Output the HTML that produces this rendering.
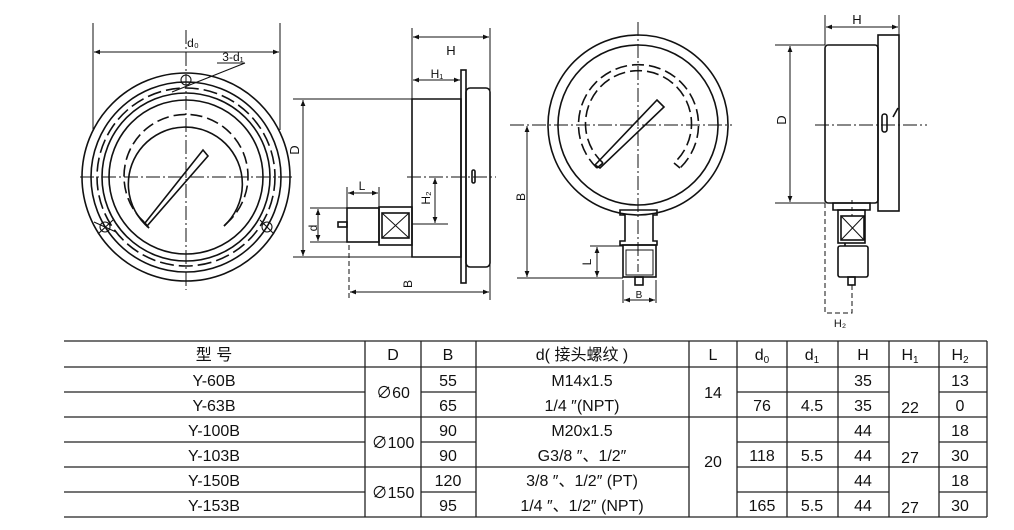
<!DOCTYPE html>
<html><head><meta charset="utf-8"><style>
body{margin:0;background:#fff;}
svg{display:block;}
text{font-family:"Liberation Sans","Noto Sans CJK SC",sans-serif;fill:#111;}
.t text{font-family:"Liberation Sans Narrow","Liberation Sans","Noto Sans CJK SC",sans-serif;font-size:16px;text-anchor:middle;}
</style></head><body>
<svg width="1014" height="530" viewBox="0 0 1014 530" xmlns="http://www.w3.org/2000/svg">
<defs>
<marker id="a" viewBox="0 0 10 10" refX="10" refY="5" markerWidth="8" markerHeight="6" orient="auto-start-reverse"><path d="M0,1 L10,5 L0,9 z" fill="#111"/></marker>
</defs>
<g fill="none" stroke="#111" stroke-width="1.6">
<!-- Drawing 1 -->
<circle cx="186" cy="177" r="104"/>
<circle cx="186" cy="177" r="95"/>
<circle cx="186" cy="177" r="89" stroke-dasharray="14,5"/>
<circle cx="186" cy="177" r="84"/>
<circle cx="186" cy="177" r="77"/>
<path d="M144,222 A62,62 0 1 1 228,222" stroke-dasharray="12,5"/>
<path d="M149,228 A57,57 0 1 1 224,226"/>
<path d="M144,222 L149,228 M228,222 L224,226"/>
<polygon points="145,223 203,150 208,156 147,226"/>
<g stroke-width="1.1"><circle cx="186" cy="80" r="5"/><circle cx="105" cy="227" r="5"/><circle cx="267" cy="227" r="5"/>
<path d="M172,92 L245,63 M98,234 L113,220 M260,220 L274,234 M94,222 L116,232"/></g>
<path d="M80,177 H295 M186,30 V290" stroke-width="1" stroke-dasharray="14,3,2,3"/>
<path d="M93,23 V130 M280,23 V130" stroke-width="1"/>
<path d="M94,52 H279" stroke-width="1" marker-start="url(#a)" marker-end="url(#a)"/>
<path d="M217,63 H245" stroke-width="1"/>
<!-- Drawing 2 -->
<path d="M412,28 V257 M490,28 V300" stroke-width="1"/>
<path d="M413,37 H489" stroke-width="1" marker-start="url(#a)" marker-end="url(#a)"/>
<path d="M413,80 H460" stroke-width="1" marker-start="url(#a)" marker-end="url(#a)"/>
<rect x="461" y="70" width="5" height="213"/>
<rect x="466" y="88" width="24" height="179" rx="4"/>
<path d="M412,99 H461 V257 H412 Z"/>
<path d="M293,99 H412 M293,257 H412" stroke-width="1"/>
<path d="M303,100 V256" stroke-width="1" marker-start="url(#a)" marker-end="url(#a)"/>
<path d="M407,177 H496" stroke-width="1" stroke-dasharray="14,3,2,3"/>
<rect x="472" y="170" width="3" height="13" rx="1.5"/>
<path d="M435,178 V223" stroke-width="1" marker-start="url(#a)" marker-end="url(#a)"/>
<path d="M412,224 H448" stroke-width="1"/>
<rect x="379" y="207" width="33" height="38"/>
<rect x="382" y="213" width="27" height="25"/>
<path d="M382,213 L409,238 M409,213 L382,238" stroke-width="1"/>
<rect x="347" y="208" width="32" height="34"/>
<rect x="338" y="222" width="9" height="5"/>
<path d="M347,187 V208 M379,187 V208" stroke-width="1"/>
<path d="M348,193 H378" stroke-width="1" marker-start="url(#a)" marker-end="url(#a)"/>
<path d="M310,208 H347 M310,242 H347" stroke-width="1"/>
<path d="M318,209 V241" stroke-width="1" marker-start="url(#a)" marker-end="url(#a)"/>
<path d="M349,245 V300" stroke-width="1" stroke-dasharray="5,3"/>
<path d="M350,292 H489" stroke-width="1" marker-start="url(#a)" marker-end="url(#a)"/>
<!-- Drawing 3 -->
<circle cx="638" cy="125" r="90"/>
<circle cx="638" cy="125" r="80"/>
<path d="M597,168 A60,60 0 1 1 680,168" stroke-dasharray="12,5"/>
<path d="M603,163 A53,53 0 1 1 674,163" stroke-dasharray="12,5"/>
<path d="M597,168 L603,163 M680,168 L674,163"/>
<polygon points="595,165 657,100 664,107 600,168"/>
<path d="M510,125 H732 M638,22 V272" stroke-width="1" stroke-dasharray="14,3,2,3"/>
<path d="M620,210 H657 V215 H653 V241 H657 V245 H620 V241 H625 V215 H620 Z"/>
<rect x="623" y="245" width="33" height="32"/>
<path d="M626,250 H653 V275 H626 Z" stroke-width="1"/>
<rect x="635" y="277" width="8" height="8"/>
<path d="M527,126 V277" stroke-width="1" marker-start="url(#a)" marker-end="url(#a)"/>
<path d="M517,278 H623 M590,246 H623" stroke-width="1"/>
<path d="M597,247 V277" stroke-width="1" marker-start="url(#a)" marker-end="url(#a)"/>
<path d="M623,280 V303 M656,280 V303" stroke-width="1"/>
<path d="M624,300 H655" stroke-width="1" marker-start="url(#a)" marker-end="url(#a)"/>
<!-- Drawing 4 -->
<rect x="825" y="45" width="53" height="158" rx="3"/>
<rect x="878" y="35" width="21" height="176"/>
<path d="M825,15 V45 M899,15 V35" stroke-width="1"/>
<path d="M826,27 H898" stroke-width="1" marker-start="url(#a)" marker-end="url(#a)"/>
<path d="M775,45 H825 M775,203 H825" stroke-width="1"/>
<path d="M790,46 V202" stroke-width="1" marker-start="url(#a)" marker-end="url(#a)"/>
<path d="M815,125 H927" stroke-width="1" stroke-dasharray="14,3,2,3"/>
<rect x="882" y="114" width="5" height="18" rx="2.5"/>
<path d="M893,117 L898,108"/>
<path d="M833,203 H870 V210 H833 Z"/>
<rect x="838" y="210" width="27" height="33"/>
<rect x="841" y="216" width="23" height="24"/>
<path d="M841,216 L864,240 M864,216 L841,240" stroke-width="1"/>
<path d="M845,243 V246"/>
<rect x="838" y="246" width="30" height="31" rx="2"/>
<rect x="848" y="277" width="7" height="8"/>
<path d="M825,203 V313 H852 V285" stroke-width="1" stroke-dasharray="5,3"/>
<path d="M852,200 V216" stroke-width="1" stroke-dasharray="4,3"/>
</g>
<g font-size="13">
<text x="193" y="47" text-anchor="middle" font-size="12">d₀</text>
<text x="233" y="61" text-anchor="middle" font-size="12">3-d₁</text>
<text x="451" y="55" text-anchor="middle">H</text>
<text x="437" y="78" text-anchor="middle" font-size="12">H₁</text>
<text transform="translate(299,150) rotate(-90)" text-anchor="middle">D</text>
<text transform="translate(430,198) rotate(-90)" text-anchor="middle" font-size="12">H₂</text>
<text x="362" y="190" text-anchor="middle" font-size="12">L</text>
<text transform="translate(317,228) rotate(-90)" text-anchor="middle" font-size="12">d</text>
<text transform="translate(412,284) rotate(-90)" text-anchor="middle" font-size="12">B</text>
<text transform="translate(525,197) rotate(-90)" text-anchor="middle" font-size="12">B</text>
<text transform="translate(591,262) rotate(-90)" text-anchor="middle" font-size="12">L</text>
<text x="639" y="298" text-anchor="middle" font-size="10">B</text>
<text x="857" y="24" text-anchor="middle">H</text>
<text transform="translate(786,120) rotate(-90)" text-anchor="middle">D</text>
<text x="840" y="327" text-anchor="middle" font-size="11">H₂</text>
</g>
<!-- Table -->
<g stroke="#222" stroke-width="1.3">
<path d="M64,341 H987 M64,367 H987 M64,517 H987"/>
<path d="M365,341 V517 M421,341 V517 M476,341 V517 M689,341 V517 M737,341 V517 M787,341 V517 M838,341 V517 M889,341 V517 M939,341 V517 M987,341 V517"/>
<path d="M64,392 H365 M421,392 H476 M737,392 H889 M939,392 H987"/>
<path d="M64,417 H987"/>
<path d="M64,442 H365 M421,442 H476 M737,442 H889 M939,442 H987"/>
<path d="M64,467 H689 M737,467 H987"/>
<path d="M64,492 H365 M421,492 H476 M737,492 H889 M939,492 H987"/>
</g>
<g class="t">
<text x="214" y="360">型  号</text>
<text x="393" y="360">D</text><text x="448" y="360">B</text>
<text x="582" y="360">d( 接头螺纹 )</text>
<text x="713" y="360">L</text>
<text x="762" y="360">d<tspan font-size="10" dy="3">0</tspan></text>
<text x="812" y="360">d<tspan font-size="10" dy="3">1</tspan></text>
<text x="863" y="360">H</text>
<text x="910" y="360">H<tspan font-size="10" dy="3">1</tspan></text>
<text x="960" y="360">H<tspan font-size="10" dy="3">2</tspan></text>
<text x="214" y="386">Y-60B</text><text x="214" y="411">Y-63B</text>
<text x="214" y="436">Y-100B</text><text x="214" y="461">Y-103B</text>
<text x="214" y="486">Y-150B</text><text x="214" y="511">Y-153B</text>
<text x="393" y="398">∅60</text><text x="393" y="448">∅100</text><text x="393" y="498">∅150</text>
<text x="448" y="386">55</text><text x="448" y="411">65</text><text x="448" y="436">90</text>
<text x="448" y="461">90</text><text x="448" y="486">120</text><text x="448" y="511">95</text>
<text x="582" y="386">M14x1.5</text><text x="582" y="411">1/4 ″(NPT)</text>
<text x="582" y="436">M20x1.5</text><text x="582" y="461">G3/8 ″、1/2″</text>
<text x="582" y="486">3/8 ″、1/2″ (PT)</text><text x="582" y="511">1/4 ″、1/2″ (NPT)</text>
<text x="713" y="398">14</text><text x="713" y="467">20</text>
<text x="762" y="411">76</text><text x="762" y="461">118</text><text x="762" y="511">165</text>
<text x="812" y="411">4.5</text><text x="812" y="461">5.5</text><text x="812" y="511">5.5</text>
<text x="863" y="386">35</text><text x="863" y="411">35</text><text x="863" y="436">44</text>
<text x="863" y="461">44</text><text x="863" y="486">44</text><text x="863" y="511">44</text>
<text x="910" y="413">22</text><text x="910" y="463">27</text><text x="910" y="513">27</text>
<text x="960" y="386">13</text><text x="960" y="411">0</text><text x="960" y="436">18</text>
<text x="960" y="461">30</text><text x="960" y="486">18</text><text x="960" y="511">30</text>
</g>
</svg>
</body></html>
